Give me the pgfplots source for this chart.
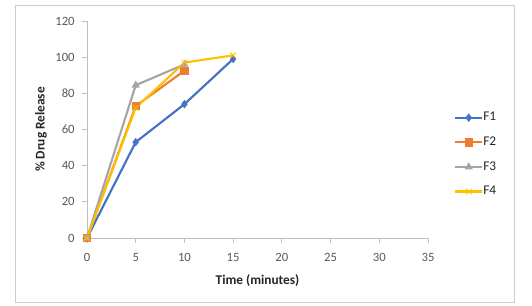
\documentclass[border=0pt]{standalone}
\usepackage{pgfplots}
\pgfplotsset{compat=1.18}
\usepackage{fontspec}
\setmainfont{Carlito}
\definecolor{cA}{HTML}{4472C4}
\definecolor{cB}{HTML}{ED7D31}
\definecolor{cC}{HTML}{A5A5A5}
\definecolor{cD}{HTML}{FFC000}
\definecolor{axgray}{HTML}{BFBFBF}
\definecolor{txt}{HTML}{595959}
\begin{document}
\begin{tikzpicture}
\useasboundingbox (0,0) rectangle (399pt,229.5pt);
\draw[color=axgray!80, line width=0.75pt] (11.25pt,2.25pt) rectangle (385.5pt,225pt);
\begin{axis}[
  at={(65.25pt,51pt)}, anchor=south west,
  width=255.75pt, height=162.75pt, scale only axis,
  xmin=0, xmax=35, ymin=0, ymax=120,
  xtick={0,5,...,35}, ytick={0,20,...,120},
  axis x line=bottom, axis y line=left,
  axis line style={-, draw=axgray, line width=0.6pt},
  tick style={draw=axgray, line width=0.6pt},
  tick align=outside, major tick length=3.75pt,
  /pgf/number format/assume math mode=true,
  tick label style={font=\fontsize{9.5}{11}\selectfont, text=txt},
  xticklabel style={anchor=center, yshift=-10.75pt},
  yticklabel style={anchor=east, xshift=-2pt},
  xlabel={\textbf{Time (minutes)}},
  ylabel={\textbf{\% Drug Release}},
  label style={font=\fontsize{10}{12}\selectfont, text=black!85},
  xlabel style={at={(axis description cs:0.5,0)}, yshift=-32.25pt, anchor=center},
  ylabel style={at={(axis description cs:-0.135,0.5)}, anchor=center},
  legend style={at={(1.076,0.58)}, anchor=north west, draw=none, fill=none,
    inner sep=0pt, row sep=10.5pt,
    nodes={inner sep=0pt, text=black!85},
    font=\fontsize{10}{12}\selectfont},
  legend cell align=left,
  /tikz/every even column/.append style={column sep=3pt},
  legend image code/.code={\draw[mark repeat=2,mark phase=2,#1] plot coordinates {(0pt,0pt) (10.125pt,0pt) (20.25pt,0pt)};},
  every axis plot/.append style={line width=1.6pt},
  clip=false,
]
\addplot[color=cA, mark=diamond*, mark size=2.8pt, mark options={solid, line width=0.5pt}] coordinates {(0,0) (5,53) (10,74) (15,99)};
\addlegendentry{F1}
\addplot[color=cB, mark=square*, mark size=2.8pt, mark options={solid, line width=0.5pt}] coordinates {(0,0) (5,73) (10,92.5)};
\addlegendentry{F2}
\addplot[color=cC, mark=triangle*, mark size=3pt, mark options={solid, line width=0.5pt}] coordinates {(0,0) (5,84.5) (10,96)};
\addlegendentry{F3}
\addplot[color=cD, mark=x, mark size=3pt, mark options={solid, line width=0.6pt}] coordinates {(0,0) (5,72) (10,97) (15,101)};
\addlegendentry{F4}
\end{axis}
\end{tikzpicture}
\end{document}
